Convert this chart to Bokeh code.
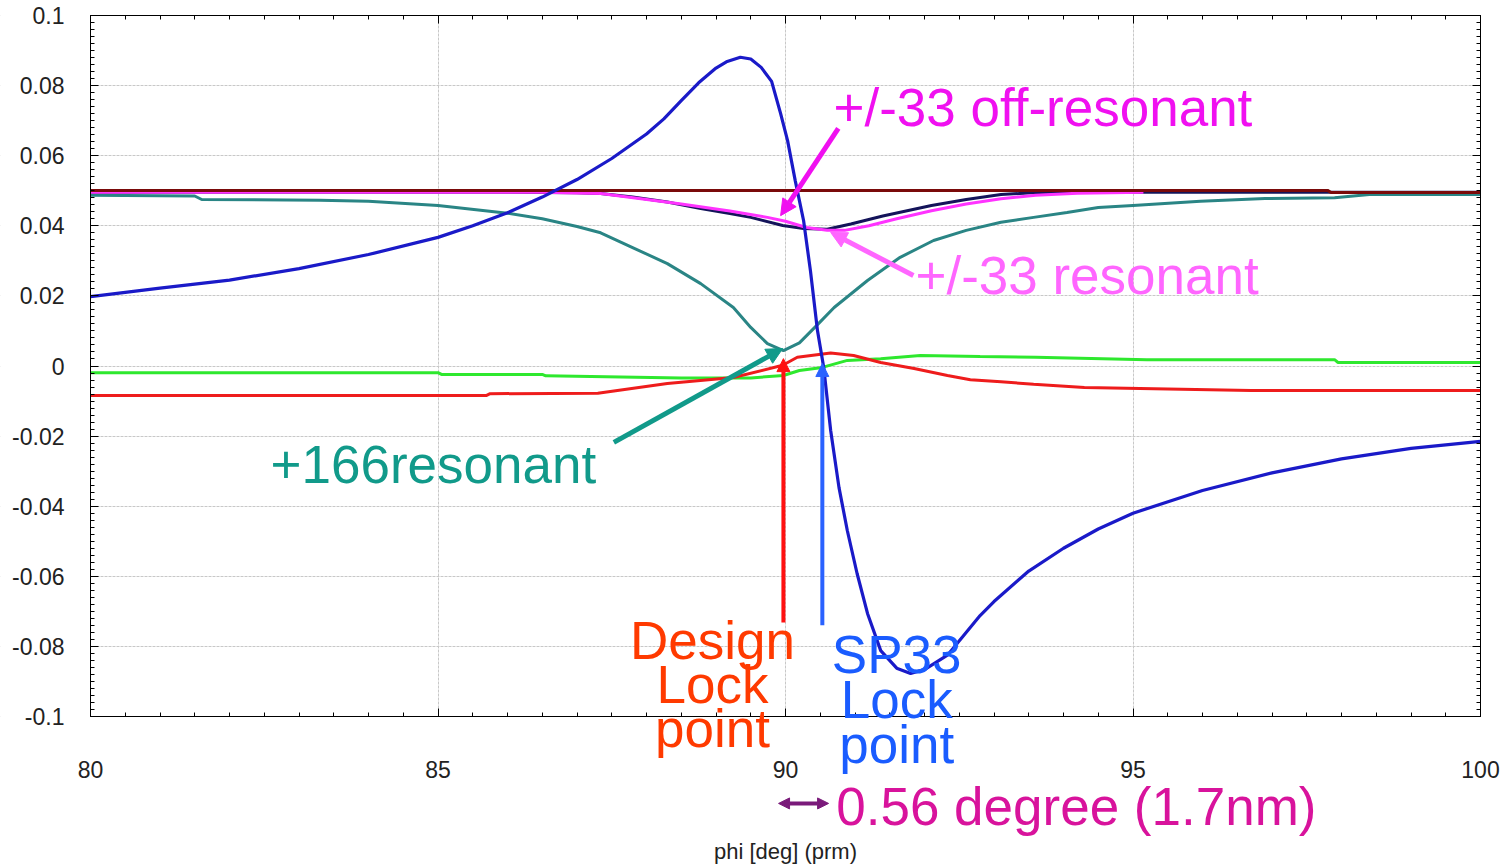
from bokeh.plotting import figure
from bokeh.models import (Label, Arrow, NormalHead, LinearAxis, SingleIntervalTicker,
                          CustomJSTickFormatter, Range1d, BoxAnnotation)
from bokeh.embed import file_html
from bokeh.resources import INLINE

# ---------------- data ----------------
blue_x = [80, 81, 82, 83, 84, 85, 85.5, 86, 86.5, 87, 87.5, 88, 88.25, 88.5, 88.75, 89,
          89.15, 89.35, 89.5, 89.65, 89.8, 89.93, 90.03, 90.14, 90.26, 90.36, 90.46,
          90.55, 90.65, 90.77, 90.89, 91.03, 91.18, 91.37, 91.6, 91.8, 92.0, 92.33, 92.8,
          93.0, 93.5, 94, 94.5, 95, 96, 97, 98, 99, 100]
blue_y = [0.0198, 0.0222, 0.0245, 0.0278, 0.0318, 0.0367, 0.0400, 0.0437, 0.0482, 0.0532,
          0.0592, 0.0662, 0.0705, 0.0757, 0.0808, 0.0850, 0.0868, 0.0881, 0.0876, 0.0852,
          0.0812, 0.0720, 0.0643, 0.0529, 0.0415, 0.0270, 0.0101, -0.0004, -0.0184,
          -0.0347, -0.0470, -0.0592, -0.0706, -0.0812, -0.0862, -0.0877, -0.0866, -0.0825,
          -0.0712, -0.0672, -0.0585, -0.0520, -0.0465, -0.0420, -0.0355, -0.0305, -0.0265,
          -0.0235, -0.0215]

darkred_x = [80, 97.8, 97.85, 100]
darkred_y = [0.0501, 0.0501, 0.0495, 0.0495]

navy_x = [80, 86, 87, 87.34, 87.8, 88.3, 88.78, 89.2, 89.5, 89.96, 90.26, 90.6, 90.94,
          91.4, 92.1, 92.6, 93.1, 93.6, 94, 95, 100]
navy_y = [0.0496, 0.0496, 0.0494, 0.0492, 0.0482, 0.0468, 0.0449, 0.0435, 0.0424, 0.0401,
          0.0392, 0.0390, 0.0405, 0.0428, 0.0458, 0.0475, 0.0489, 0.0495, 0.0496, 0.0496,
          0.0496]

magenta_x = [80, 86.5, 87.34, 88.5, 89.2, 89.74, 90.0, 90.3, 90.6, 90.85, 91.2, 91.6,
             92.1, 92.6, 93.1, 93.6, 94.2, 95.15]
magenta_y = [0.0496, 0.0496, 0.0492, 0.0462, 0.0442, 0.0424, 0.0413, 0.0395, 0.0387,
             0.0387, 0.0400, 0.0420, 0.0443, 0.0462, 0.0477, 0.0487, 0.0493, 0.0496]

teal_x = [80, 81.5, 81.6, 83.3, 84, 85, 86, 86.5, 87, 87.34, 87.8, 88.3, 88.78, 89.25,
          89.5, 89.74, 89.97, 90.2, 90.45, 90.7, 91.18, 91.65, 92.13, 92.6, 93.1, 93.57,
          94.05, 94.5, 95, 95.97, 96.9, 97.9, 98.4, 100]
teal_y = [0.0487, 0.0485, 0.0475, 0.0473, 0.0470, 0.0458, 0.0436, 0.0420, 0.0398, 0.0380,
          0.0338, 0.0292, 0.0235, 0.0167, 0.0110, 0.0064, 0.0044, 0.0066, 0.0116, 0.0167,
          0.0244, 0.0310, 0.0358, 0.0387, 0.0410, 0.0424, 0.0438, 0.0452, 0.0458, 0.0470,
          0.0478, 0.0480, 0.0489, 0.0489]

red_x = [80, 85.7, 85.75, 87.3, 88.3, 89.25, 89.96, 90.17, 90.65, 90.98, 91.37, 91.85,
         92.33, 92.66, 93.1, 93.57, 94.3, 95.1, 96.7, 100]
red_y = [-0.0084, -0.0084, -0.0079, -0.0078, -0.0050, -0.0033, 0.0002, 0.0025, 0.0037,
         0.0030, 0.0010, -0.0007, -0.0027, -0.0039, -0.0045, -0.0052, -0.0061, -0.0064,
         -0.0070, -0.0070]

green_x = [80, 85.0, 85.05, 86.5, 86.55, 88.5, 89.5, 89.97, 90.2, 90.53, 90.89, 91.37,
           91.94, 92.8, 93.6, 95.2, 97.9, 97.95, 100]
green_y = [-0.0019, -0.0019, -0.0024, -0.0024, -0.0028, -0.0034, -0.0034, -0.0027,
           -0.0013, -0.0004, 0.0016, 0.0021, 0.0030, 0.0027, 0.0025, 0.0018, 0.0018,
           0.0010, 0.0010]

x_label = "phi [deg] (prm)"
X_MIN, X_MAX = 80, 100
Y_MIN, Y_MAX = -0.1, 0.1

FONT = "Liberation Sans"

# The frame covers the whole canvas so that the annotations around the box are not
# clipped; the visible box (80..100, -0.1..0.1) is drawn by four fixed-location axes.
W, H = 1510, 868
BOX_L, BOX_R, BOX_T, BOX_B = 90, 1480, 15, 716
sx = (BOX_R - BOX_L) / (X_MAX - X_MIN)
sy = (BOX_B - BOX_T) / (Y_MAX - Y_MIN)
xr = Range1d(X_MIN - BOX_L / sx, X_MAX + (W - BOX_R) / sx)
yr = Range1d(Y_MIN - (H - BOX_B) / sy, Y_MAX + BOX_T / sy)

p = figure(width=W, height=H, output_backend="svg", toolbar_location=None,
           x_range=xr, y_range=yr, x_axis_label=x_label,
           min_border_left=0, min_border_right=0, min_border_top=0, min_border_bottom=0)
p.background_fill_color = "white"
p.border_fill_color = "white"
p.outline_line_color = None

xt = SingleIntervalTicker(interval=5, num_minor_ticks=10)
yt = SingleIntervalTicker(interval=0.02, num_minor_ticks=10)
fmt = CustomJSTickFormatter(code="return String(Number(tick.toFixed(3)));")
blank = CustomJSTickFormatter(code="return '';")

bottom_ax = p.below[0]
left_ax = p.left[0]
bottom_ax.ticker = xt
bottom_ax.fixed_location = Y_MIN
bottom_ax.bounds = (X_MIN, X_MAX)
bottom_ax.major_label_standoff = 44
bottom_ax.axis_label_standoff = 58
left_ax.ticker = yt
left_ax.formatter = fmt
left_ax.fixed_location = X_MIN
left_ax.bounds = (Y_MIN, Y_MAX)
left_ax.major_label_standoff = 26

top_ax = LinearAxis(ticker=xt, formatter=blank, major_label_standoff=0,
                    major_label_text_font_size="10px", fixed_location=Y_MAX,
                    bounds=(X_MIN, X_MAX))
right_ax = LinearAxis(ticker=yt, formatter=blank, major_label_standoff=0,
                      major_label_text_font_size="10px", fixed_location=X_MAX,
                      bounds=(Y_MIN, Y_MAX))
p.add_layout(top_ax, "above")
p.add_layout(right_ax, "right")

for ax in [bottom_ax, left_ax, top_ax, right_ax]:
    ax.axis_line_color = "black"
    ax.axis_line_width = 1
    ax.major_tick_in = 8
    ax.major_tick_out = 0
    ax.minor_tick_in = 4
    ax.minor_tick_out = 0
    ax.major_tick_line_color = "black"
    ax.minor_tick_line_color = "black"
    ax.major_label_text_font = FONT
    ax.major_label_text_color = "#222222"
    ax.axis_label_text_font = FONT
    ax.axis_label_text_font_style = "normal"
    ax.axis_label_text_color = "#222222"
bottom_ax.major_label_text_font_size = "23px"
left_ax.major_label_text_font_size = "23px"
bottom_ax.axis_label_text_font_size = "22px"

p.xgrid.ticker = xt
p.ygrid.ticker = yt
for g in [p.xgrid[0], p.ygrid[0]]:
    g.grid_line_color = "#c8c8c8"
    g.grid_line_dash = "3 1"
    g.grid_line_width = 1

# white margins outside the box hide the grid there
for kw in [dict(top=Y_MIN), dict(bottom=Y_MAX), dict(right=X_MIN), dict(left=X_MAX)]:
    p.add_layout(BoxAnnotation(fill_color="white", fill_alpha=1.0, line_color=None,
                               level="glyph", **kw))

# ---------------- curves ----------------
p.line(teal_x, teal_y, line_color="#2a8585", line_width=3)
p.line(green_x, green_y, line_color="#2ee82e", line_width=3)
p.line(red_x, red_y, line_color="#ee1c1c", line_width=3)
p.line(navy_x, navy_y, line_color="#14145a", line_width=3)
p.line(magenta_x, magenta_y, line_color="#ff33ff", line_width=3)
p.line(darkred_x, darkred_y, line_color="#7a0a0a", line_width=3)
p.line(blue_x, blue_y, line_color="#1a1ac8", line_width=3.2)

# ---------------- annotations ----------------
LIFT = 19 / sy  # baseline correction

def lbl(x, y, text, color, align="left"):
    p.add_layout(Label(x=x, y=y + LIFT, text=text, text_color=color, text_font=FONT,
                       text_font_size="53px", text_align=align,
                       text_baseline="alphabetic"))

def arrow(x0, y0, x1, y1, color, width=5, size=16, both=False):
    head = NormalHead(size=size, fill_color=color, line_color=color)
    start = NormalHead(size=size, fill_color=color, line_color=color) if both else None
    p.add_layout(Arrow(x_start=x0, y_start=y0, x_end=x1, y_end=y1, end=head, start=start,
                       line_color=color, line_width=width))

lbl(90.69, 0.0683, "+/-33 off-resonant", "#f010f0")
arrow(90.76, 0.0678, 89.93, 0.0429, "#f010f0")

lbl(91.87, 0.0204, "+/-33 resonant", "#ff66ff")
arrow(91.84, 0.0258, 90.65, 0.0381, "#ff66ff")

lbl(82.59, -0.0335, "+166resonant", "#119a8a")
arrow(87.53, -0.0218, 89.96, 0.005, "#119a8a")

arrow(89.97, -0.0732, 89.97, 0.0021, "#ff1010", width=4, size=13)
lbl(88.95, -0.0837, "Design", "#ff3a00", "center")
lbl(88.95, -0.0963, "Lock", "#ff3a00", "center")
lbl(88.95, -0.1088, "point", "#ff3a00", "center")

arrow(90.53, -0.0740, 90.53, 0.0007, "#2a62ff", width=4, size=13)
lbl(91.60, -0.0877, "SP33", "#1a5cff", "center")
lbl(91.60, -0.1006, "Lock", "#1a5cff", "center")
lbl(91.60, -0.1134, "point", "#1a5cff", "center")

arrow(89.90, -0.1248, 90.62, -0.1248, "#7a1a7a", width=4, size=11, both=True)
lbl(90.73, -0.1311, "0.56 degree (1.7nm)", "#d8139c")

open("out.html", "w").write(file_html(p, INLINE))
